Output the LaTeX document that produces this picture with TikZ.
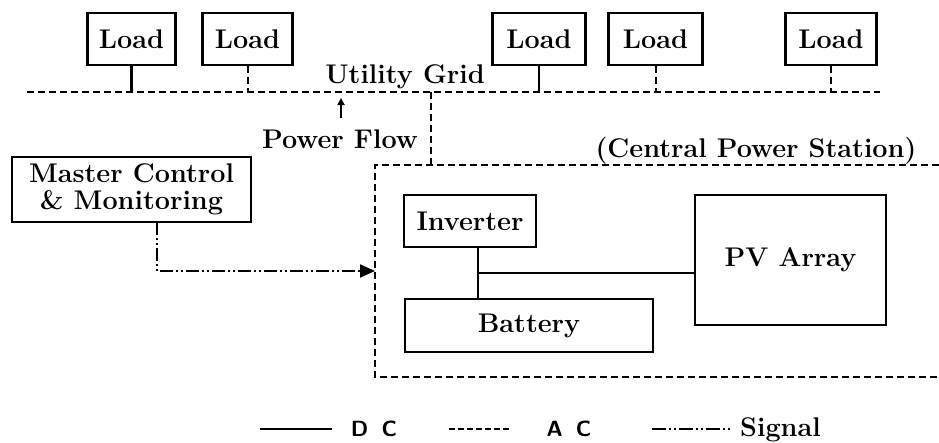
\documentclass[tikz,border=0pt]{standalone}
\usetikzlibrary{arrows.meta}
\begin{document}
\begin{tikzpicture}[x=1pt,y=-1pt,
  box/.style={draw,line width=2.4pt,inner sep=0pt,font=\fontsize{27}{30}\selectfont\bfseries},
  lbl/.style={inner sep=0pt,font=\fontsize{27}{30}\selectfont\bfseries},
  dcline/.style={line width=2.4pt},
  acline/.style={line width=2pt,dash pattern=on 7pt off 4pt},
  sigline/.style={line width=2pt,dash pattern=on 13pt off 3pt on 2pt off 3pt on 2pt off 3pt},
  legtext/.style={inner sep=0pt,font=\fontsize{22}{24}\selectfont\sffamily\bfseries}]
\useasboundingbox (0,0) rectangle (939,442);
% loads
\node[box,minimum width=88pt,minimum height=52pt] (l1) at (131.5,39) {Load};
\node[box,minimum width=90pt,minimum height=52pt] (l2) at (247.5,39) {Load};
\node[box,minimum width=93pt,minimum height=52pt] (l3) at (539,39) {Load};
\node[box,minimum width=94pt,minimum height=52pt] (l4) at (655.5,39) {Load};
\node[box,minimum width=91pt,minimum height=52pt] (l5) at (831,39) {Load};
% grid
\coordinate (gL) at (27,92);
\coordinate (gR) at (880,92);
\draw[acline] (gL) -- (gR);
\node[lbl] (ug) at (405,77) {Utility Grid};
\draw[dcline] (l1.south) -- (l1.south |- gL);
\draw[acline] (l2.south) -- (l2.south |- gL);
\draw[dcline] (l3.south) -- (l3.south |- gL);
\draw[acline] (l4.south) -- (l4.south |- gL);
\draw[acline] (l5.south) -- (l5.south |- gL);
% power flow
\coordinate (pfB) at (341,118);
\coordinate (pfT) at (341,98);
\draw[line width=2pt,-{Triangle[length=7pt,width=7pt]}] (pfB) -- (pfT);
\node[lbl] (pf) at (340,139) {Power Flow};
% central power station
\coordinate (csTR) at (939,165);
\coordinate (csTL) at (375,165);
\coordinate (csBL) at (375,377);
\coordinate (csBR) at (939,377);
\draw[acline] (csTR) -- (csTL) -- (csBL) -- (csBR);
\node[lbl] (cps) at (756,151) {(Central Power Station)};
\coordinate (tap) at (431,165);
\draw[acline] (tap |- gL) -- (tap);
% master control
\node[box,minimum width=239pt,minimum height=65pt,align=center] (mc) at (131.5,189.5)
  {Master Control\\[-3pt]\& Monitoring};
\coordinate (mcA) at (157,222);
\coordinate (sigEnd) at (375,271);
\draw[sigline,-{Triangle[length=15pt,width=13pt]}] (mcA) |- (sigEnd);
% components
\node[box,minimum width=132pt,minimum height=52pt] (inv) at (470,221) {Inverter};
\node[box,minimum width=248pt,minimum height=53pt] (bat) at (529,325.5) {Battery};
\node[box,minimum width=191pt,minimum height=130pt] (pv) at (790.5,260) {PV Array};
\coordinate (j) at (478,273);
\draw[dcline] (inv.south -| j) -- (bat.north -| j);
\draw[dcline] (j) -- (pv.west |- j);
% legend
\coordinate (dc1) at (260,429); \coordinate (dc2) at (332,429);
\draw[dcline] (dc1) -- (dc2);
\node[legtext] (dct) at (374,429) {D\hspace{0.6em}C};
\coordinate (ac1) at (449,429); \coordinate (ac2) at (509,429);
\draw[line width=2pt,dash pattern=on 6pt off 3pt] (ac1) -- (ac2);
\node[legtext] (act) at (569,429) {A\hspace{0.6em}C};
\coordinate (sg1) at (652,429); \coordinate (sg2) at (730,429);
\draw[line width=2pt,dash pattern=on 14pt off 3pt on 2pt off 3pt on 2pt off 3pt] (sg1) -- (sg2);
\node[inner sep=0pt,anchor=base west,font=\fontsize{27}{30}\selectfont\bfseries] (sgt) at (740,436) {Signal};
\end{tikzpicture}
\end{document}
